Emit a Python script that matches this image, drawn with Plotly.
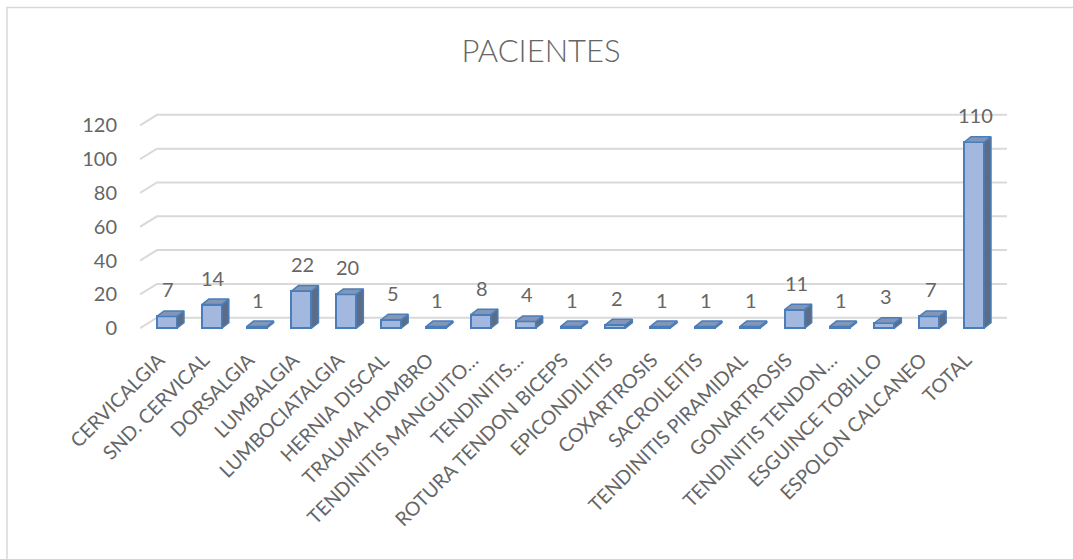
import plotly.graph_objects as go

categories = ["CERVICALGIA", "SND. CERVICAL", "DORSALGIA", "LUMBALGIA", "LUMBOCIATALGIA",
              "HERNIA DISCAL", "TRAUMA HOMBRO", "TENDINITIS MANGUITO…", "TENDINITIS…",
              "ROTURA TENDON BICEPS", "EPICONDILITIS", "COXARTROSIS", "SACROILEITIS",
              "TENDINITIS PIRAMIDAL", "GONARTROSIS", "TENDINITIS TENDON…", "ESGUINCE TOBILLO",
              "ESPOLON CALCANEO", "TOTAL"]
values = [7, 14, 1, 22, 20, 5, 1, 8, 4, 1, 2, 1, 1, 1, 11, 1, 3, 7, 110]
y_ticks = [0, 20, 40, 60, 80, 100, 120]
title_text = "PACIENTES"

W, H = 1073, 559
L, R, T, B = 140, 66, 100, 224
x_range = [-0.602, 18.736]
y_range = [-4.0, 135.0]
px_x = (W - L - R) / (x_range[1] - x_range[0])
px_y = (H - T - B) / (y_range[1] - y_range[0])

bar_w = 20 / px_x
dx = 7 / px_x
dy = 5.5 / px_y
gdx = 17 / px_x
gdy = 10.5 / px_y

idx = list(range(len(categories)))

fig = go.Figure()

# 3D gridlines (front diagonal + back wall line)
shapes = []
for t in y_ticks:
    x0 = x_range[0]
    path = f"M {x0},{t} L {x0 + gdx},{t + gdy} L {x_range[1]},{t + gdy}"
    shapes.append(dict(type="path", path=path, xref="x", yref="y", layer="below",
                       line=dict(color="#d9d9d9", width=2)))

# outer chart border
bx0 = (7 - L) / (W - L - R)
bx1 = (1090 - L) / (W - L - R)
by1 = ((H - B) - 7.5) / (H - T - B)
by0 = ((H - B) - 580) / (H - T - B)
shapes.append(dict(type="rect", xref="paper", yref="paper", x0=bx0, x1=bx1, y0=by0, y1=by1,
                   line=dict(color="#d9d9d9", width=1.5), layer="below"))

# front faces
fig.add_trace(go.Bar(x=idx, y=values, width=bar_w,
                     marker=dict(color="#a3b8de", line=dict(color="#4a7ebb", width=2)),
                     hoverinfo="skip", showlegend=False))

# side faces
sx, sy = [], []
for i, v in zip(idx, values):
    xr = i + bar_w / 2
    sx += [xr, xr + dx, xr + dx, xr, xr, None]
    sy += [0, dy, v + dy, v, 0, None]
fig.add_trace(go.Scatter(x=sx, y=sy, mode="lines", fill="toself", fillcolor="#5d6c85",
                         line=dict(color="#4a7ebb", width=1.5), hoverinfo="skip",
                         showlegend=False))

# top faces
tx, ty = [], []
for i, v in zip(idx, values):
    xl = i - bar_w / 2
    xr = i + bar_w / 2
    tx += [xl, xl + dx, xr + dx, xr, xl, None]
    ty += [v, v + dy, v + dy, v, v, None]
fig.add_trace(go.Scatter(x=tx, y=ty, mode="lines", fill="toself", fillcolor="#8396b6",
                         line=dict(color="#4a7ebb", width=1.5), hoverinfo="skip",
                         showlegend=False))

# data labels
annotations = []
for i, v in zip(idx, values):
    annotations.append(dict(x=i + 0.03, y=v, xref="x", yref="y", text=str(v), showarrow=False,
                            yanchor="middle", yshift=27,
                            font=dict(family="Lato", size=20, color="#666666")))

fig.update_layout(
    width=W, height=H,
    margin=dict(l=L, r=R, t=T, b=B),
    paper_bgcolor="white", plot_bgcolor="white",
    title=dict(text=title_text, x=541 / W, xref="container", xanchor="center",
               y=1 - 51 / H, yref="container", yanchor="middle",
               font=dict(family="Lato", size=31, weight=300, color="#666666")),
    shapes=shapes, annotations=annotations,
    xaxis=dict(range=x_range, tickmode="array", tickvals=idx, ticktext=categories,
               tickangle=-45, showgrid=False, zeroline=False, showline=False,
               ticks="outside", ticklen=5, tickcolor="rgba(0,0,0,0)",
               ticklabelshift=-8,
               tickfont=dict(family="Lato", size=19.5, color="#666666")),
    yaxis=dict(range=y_range, tickmode="array", tickvals=y_ticks, showgrid=False,
               zeroline=False, showline=False, ticks="outside", ticklen=18,
               tickcolor="rgba(0,0,0,0)",
               tickfont=dict(family="Lato", size=20, color="#666666")),
    bargap=0,
)

fig.write_html("out.html", config={"displayModeBar": False},
               post_script="document.body.style.margin='0';")
